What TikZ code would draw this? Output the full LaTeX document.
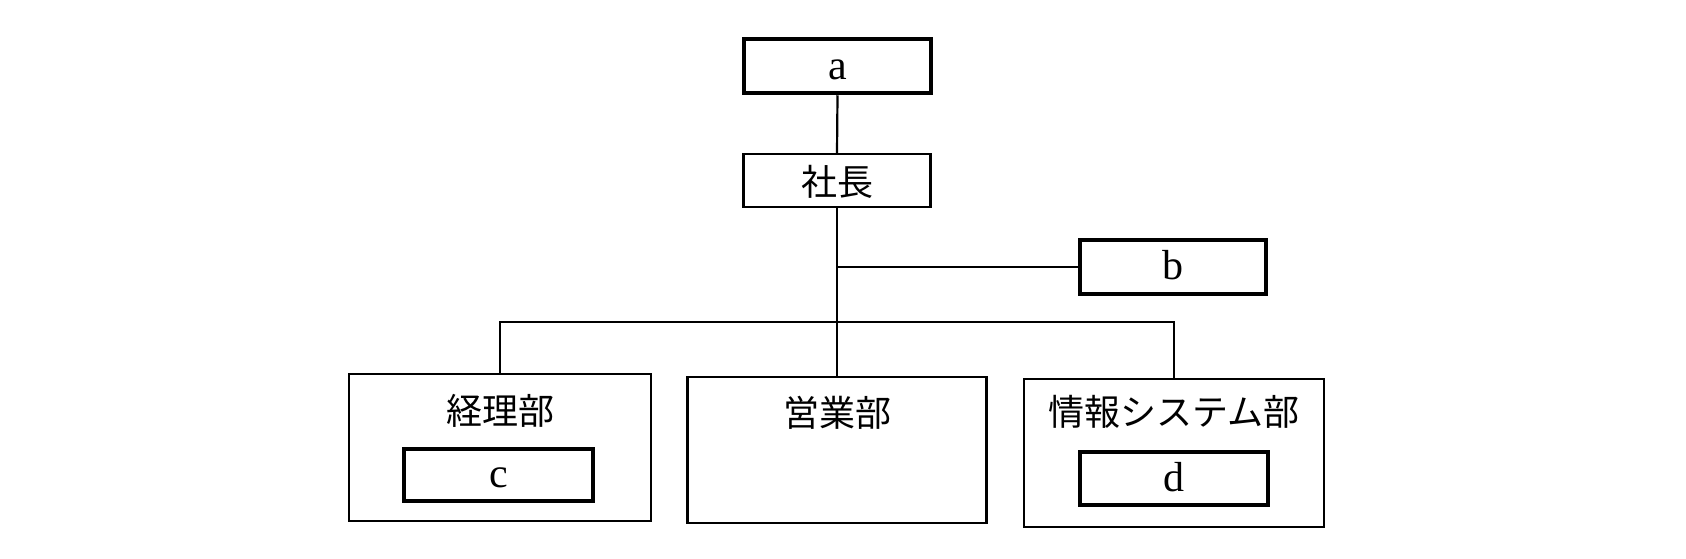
\documentclass[tikz,border=0pt]{standalone}
\usepackage{fontspec}
\setmainfont{Liberation Serif}
\newfontfamily\jp{Noto Sans CJK JP}
\tikzset{
  thinbox/.style={draw=black, line width=2.2pt, fill=white, inner sep=0pt},
  thickbox/.style={draw=black, line width=4.5pt, fill=white, inner sep=0pt},
  jplabel/.style={font=\jp\fontsize{36}{36}\selectfont, inner sep=0pt},
  latlabel/.style={font=\fontsize{42}{42}\selectfont, inner sep=0pt, anchor=base},
  conn/.style={draw=black, line width=2.2pt}
}
\begin{document}
\begin{tikzpicture}[x=1pt,y=-1pt]
\fill[white] (0,0) rectangle (1686,558);
\useasboundingbox (0,0) rectangle (1686,558);
% boxes
\node[thickbox, minimum width=187pt, minimum height=54pt] (a) at (837.5,66) {};
\node[latlabel] (ta) at (837.5,79) {a};
\node[thinbox, minimum width=187pt, minimum height=53pt] (shacho) at (837,180.5) {};
\node[jplabel] (tshacho) at (837,182) {社長};
\node[thickbox, minimum width=186pt, minimum height=54pt] (b) at (1173,267) {};
\node[latlabel] (tb) at (1173,279) {b};
\node[thinbox, minimum width=302pt, minimum height=147pt] (keiri) at (500,447.5) {};
\node[jplabel] (tkeiri) at (500,411) {経理部};
\node[thinbox, minimum width=299pt, minimum height=146pt] (eigyo) at (837,450) {};
\node[jplabel] (teigyo) at (837,413) {営業部};
\node[thinbox, minimum width=300pt, minimum height=148pt] (joho) at (1174,453) {};
\node[jplabel] (tjoho) at (1174,412) {情報システム部};
\node[thickbox, minimum width=189pt, minimum height=52pt] (c) at (498.5,475) {};
\node[latlabel] (tc) at (498.5,487) {c};
\node[thickbox, minimum width=188pt, minimum height=53pt] (d) at (1174,478.5) {};
\node[latlabel] (td) at (1174,491) {d};
% connectors
\coordinate (jb) at (837,267);
\coordinate (bus) at (837,322);
\draw[conn] (a.south) -- (shacho.north);
\draw[conn] (shacho.south) -- (eigyo.north);
\draw[conn] (jb) -- (b.west);
\draw[conn] (keiri.north) -- (keiri.north |- bus) -| (joho.north);
\end{tikzpicture}
\end{document}
